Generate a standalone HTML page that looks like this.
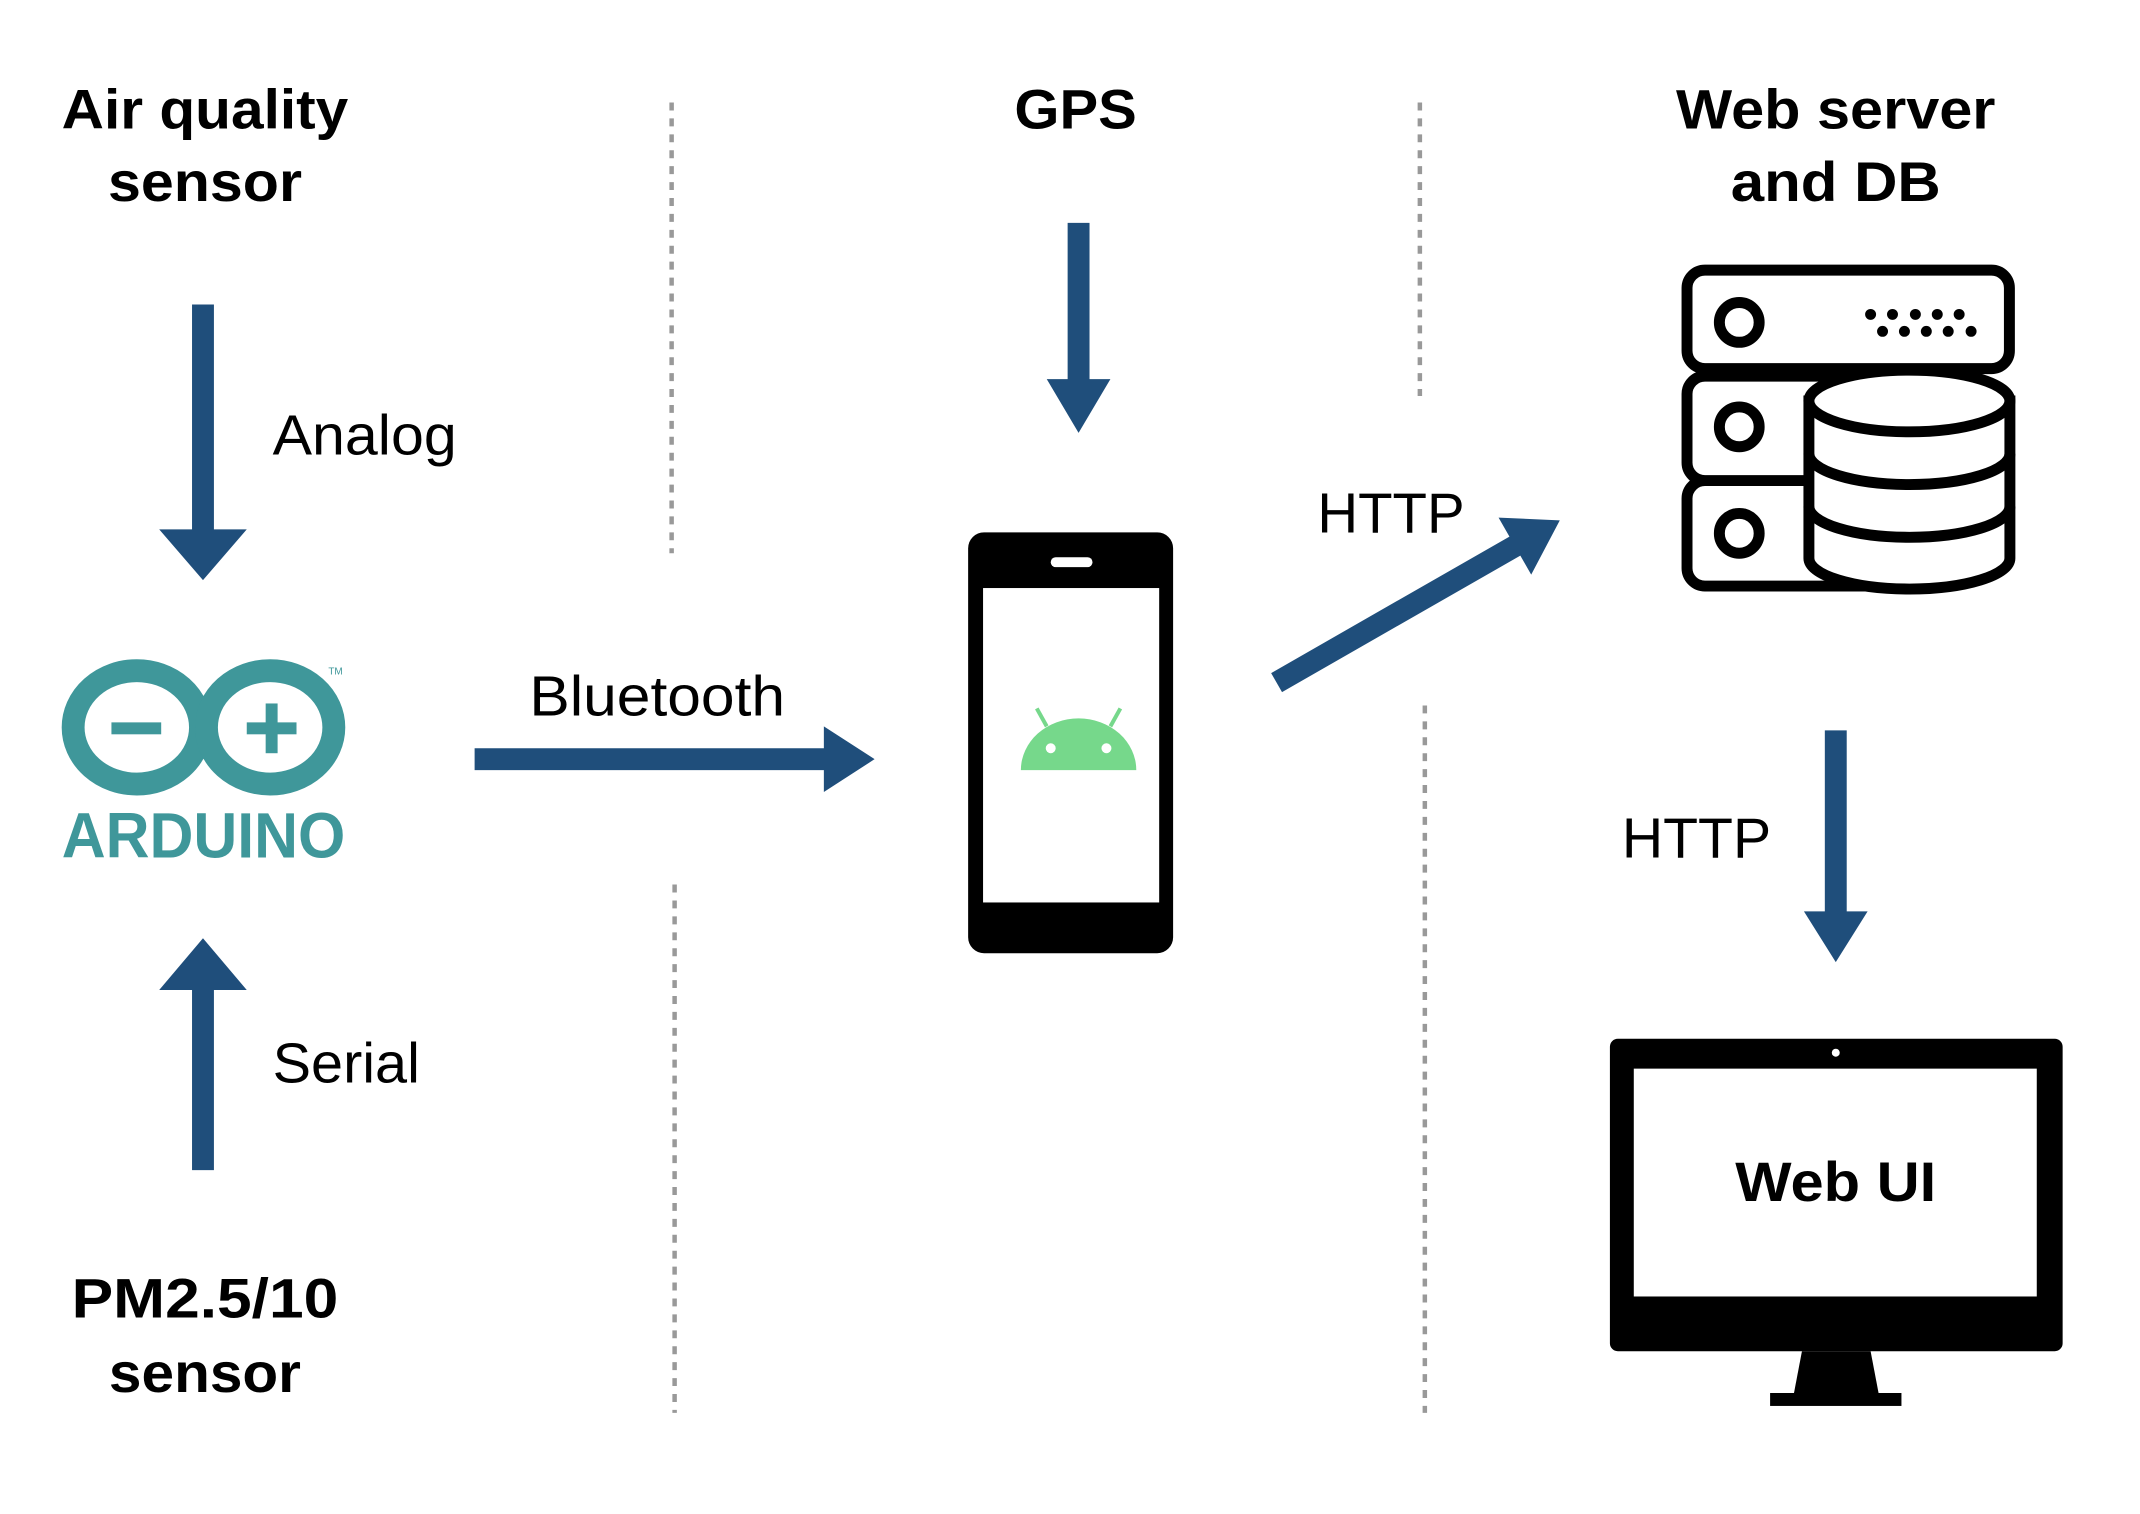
<!DOCTYPE html>
<html><head><meta charset="utf-8"><style>
html,body{margin:0;padding:0;background:#fff;}
svg{display:block;}
.b{font-family:"Liberation Sans",sans-serif;font-weight:bold;font-size:56px;fill:#000;}
.r{font-family:"Liberation Sans",sans-serif;font-size:57px;fill:#000;}
</style></head><body>
<svg width="2140" height="1514" viewBox="0 0 2140 1514" xmlns="http://www.w3.org/2000/svg">
<rect width="2140" height="1514" fill="#fff"/>
<g transform="scale(0.995)">
<!-- titles -->
<text class="b" x="206" y="129" text-anchor="middle" textLength="288" lengthAdjust="spacingAndGlyphs">Air quality</text>
<text class="b" x="206" y="202" text-anchor="middle" textLength="195" lengthAdjust="spacingAndGlyphs">sensor</text>
<text class="b" x="1081" y="129" text-anchor="middle" textLength="123" lengthAdjust="spacingAndGlyphs">GPS</text>
<text class="b" x="1845" y="129" text-anchor="middle" textLength="321" lengthAdjust="spacingAndGlyphs">Web server</text>
<text class="b" x="1845" y="202" text-anchor="middle" textLength="211" lengthAdjust="spacingAndGlyphs">and DB</text>
<text class="b" x="206" y="1324" text-anchor="middle" textLength="268" lengthAdjust="spacingAndGlyphs">PM2.5/10</text>
<text class="b" x="206" y="1399" text-anchor="middle" textLength="193" lengthAdjust="spacingAndGlyphs">sensor</text>
<!-- labels -->
<text class="r" x="274" y="457" textLength="185" lengthAdjust="spacingAndGlyphs">Analog</text>
<text class="r" x="274" y="1088" textLength="148" lengthAdjust="spacingAndGlyphs">Serial</text>
<text class="r" x="532" y="719" textLength="257" lengthAdjust="spacingAndGlyphs">Bluetooth</text>
<text class="r" x="1324" y="535" textLength="148" lengthAdjust="spacingAndGlyphs">HTTP</text>
<text class="r" x="1630" y="862" textLength="150" lengthAdjust="spacingAndGlyphs">HTTP</text>
<!-- dashed -->
<g stroke="#999" stroke-width="4.5" stroke-dasharray="8 8">
<line x1="675" y1="103" x2="675" y2="556"/>
<line x1="678" y1="889" x2="678" y2="1420"/>
<line x1="1427" y1="103" x2="1427" y2="398"/>
<line x1="1432" y1="709" x2="1432" y2="1420"/>
</g>
<!-- arrows -->
<g fill="#1f4e7b">
<polygon points="193,306 215,306 215,532 248,532 204,583 160,532 193,532"/>
<polygon points="204,943 248,995 215,995 215,1176 193,1176 193,995 160,995"/>
<polygon points="1073,224 1095,224 1095,381 1116,381 1084,435 1052,381 1073,381"/>
<polygon points="1834,734 1856,734 1856,916 1877,916 1845,967 1813,916 1834,916"/>
<polygon points="477,752 828,752 828,730 879,763 828,796 828,774 477,774"/>
<g transform="translate(1283,686) rotate(-29.8)">
<polygon points="0,-11 276,-11 276,-33 328,0 276,33 276,11 0,11"/>
</g>
</g>
<!-- arduino -->
<g fill="none" stroke="#3f979a" stroke-width="23">
<ellipse cx="137.5" cy="731" rx="64" ry="57"/>
<ellipse cx="271.5" cy="731" rx="64" ry="57"/>
</g>
<g fill="#3f979a">
<rect x="112" y="726" width="50" height="12"/>
<rect x="248" y="726" width="50" height="12"/>
<rect x="267" y="707" width="12" height="50"/>
<text x="62" y="862" font-family="Liberation Sans,sans-serif" font-weight="bold" font-size="64" textLength="285" lengthAdjust="spacingAndGlyphs">ARDUINO</text>
<text x="330" y="678" font-family="Liberation Sans,sans-serif" font-size="10">TM</text>
</g>
<!-- phone -->
<rect x="973" y="535" width="206" height="423" rx="16" fill="#000"/>
<rect x="988" y="591" width="177" height="316" fill="#fff"/>
<rect x="1056" y="560" width="42" height="10" rx="5" fill="#fff"/>
<path d="M1026,774 A58,52 0 0 1 1142,774 Z" fill="#76d88b"/>
<g stroke="#76d88b" stroke-width="4"><line x1="1052" y1="730" x2="1042" y2="712"/><line x1="1116" y1="730" x2="1126" y2="712"/></g>
<circle cx="1056" cy="752" r="5" fill="#fff"/><circle cx="1112" cy="752" r="5" fill="#fff"/>
<!-- server -->
<g transform="translate(10,1)">
<g stroke="#000" stroke-width="11" fill="#fff">
<rect x="1685.5" y="482" width="200" height="106" rx="18"/>
<rect x="1685.5" y="377" width="200" height="105" rx="18"/>
<rect x="1685.5" y="270.5" width="324" height="99" rx="18"/>
<circle cx="1738" cy="323" r="20"/>
<circle cx="1738" cy="428" r="20"/>
<circle cx="1738" cy="535" r="20"/>
<path d="M1808,402 L1808,560 A101,31 0 0 0 2010,560 L2010,402 Z"/>
<ellipse cx="1909" cy="402" rx="101" ry="31"/>
<path d="M1808,455 A101,31 0 0 0 2010,455" fill="none"/>
<path d="M1808,508 A101,31 0 0 0 2010,508" fill="none"/>
</g>
<g fill="#000">
<circle cx="1870" cy="315" r="5.5"/><circle cx="1892" cy="315" r="5.5"/><circle cx="1915" cy="315" r="5.5"/><circle cx="1937" cy="315" r="5.5"/><circle cx="1959" cy="315" r="5.5"/>
<circle cx="1882" cy="332" r="5.5"/><circle cx="1904" cy="332" r="5.5"/><circle cx="1926" cy="332" r="5.5"/><circle cx="1948" cy="332" r="5.5"/><circle cx="1971" cy="332" r="5.5"/>
</g>
</g>
<!-- monitor -->
<rect x="1618" y="1044" width="455" height="314" rx="8" fill="#000"/>
<rect x="1642" y="1074" width="405" height="229" fill="#fff"/>
<circle cx="1845" cy="1058" r="4" fill="#fff"/>
<polygon points="1811,1358 1880,1358 1888,1400 1803,1400" fill="#000"/>
<rect x="1779" y="1400" width="132" height="13" fill="#000"/>
<text class="b" x="1845" y="1207" text-anchor="middle" textLength="202" lengthAdjust="spacingAndGlyphs">Web UI</text>
</g>
</svg>
</body></html>
